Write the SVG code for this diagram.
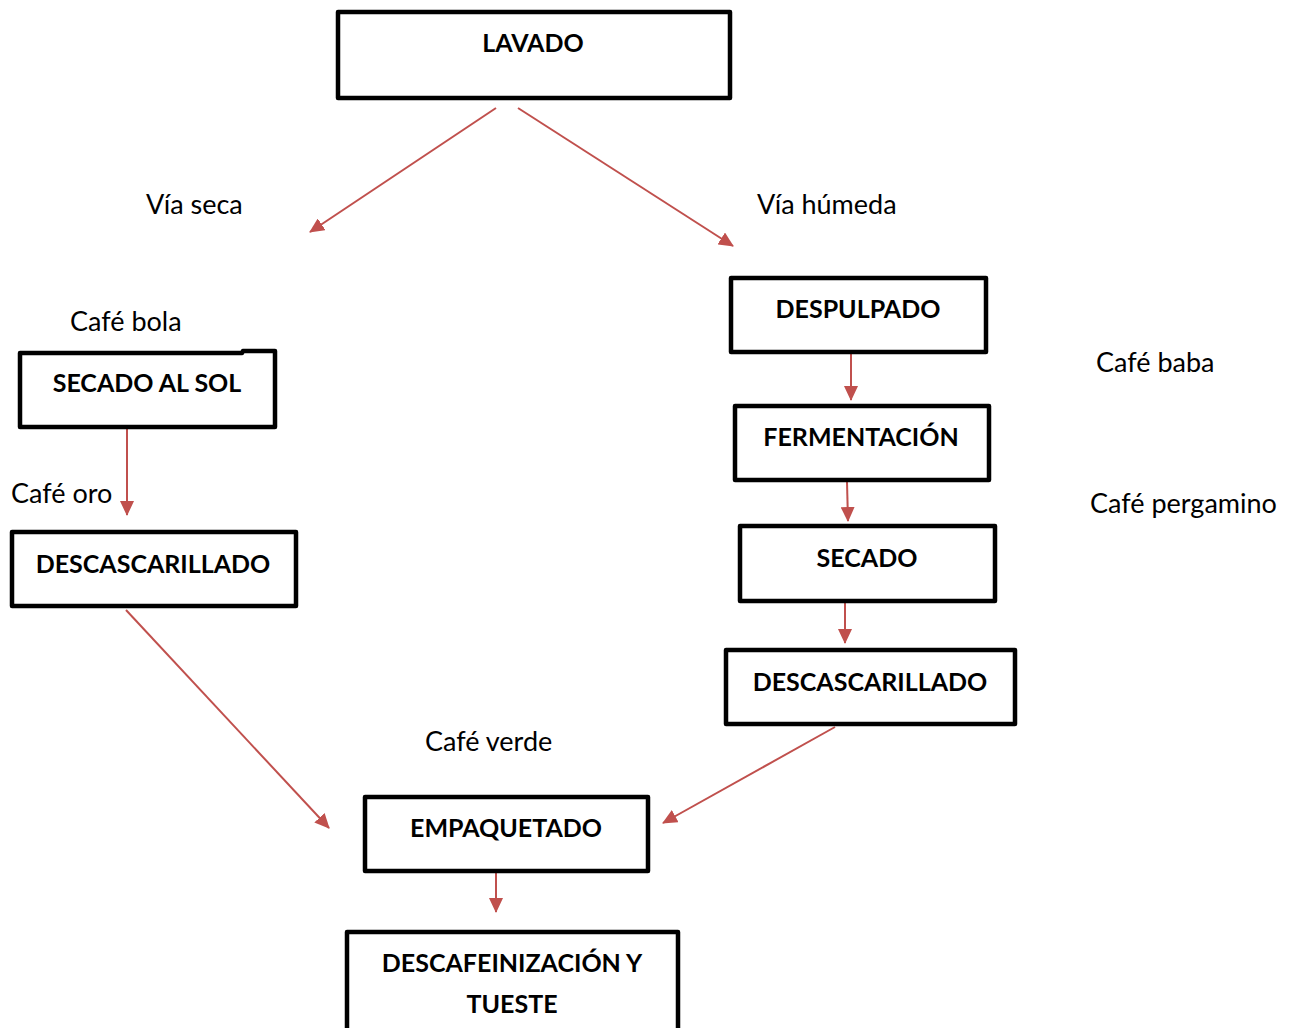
<svg xmlns="http://www.w3.org/2000/svg" width="1294" height="1028" viewBox="0 0 1294 1028">
<defs>
<style>
.box{fill:#fff;stroke:#000;stroke-width:4.5;stroke-linejoin:round}
.t{font-family:Lato,"Liberation Sans",sans-serif;font-weight:bold;font-size:25px;fill:#000;text-anchor:middle}
.l{font-family:Lato,"Liberation Sans",sans-serif;font-size:27px;fill:#000}
.c{stroke:#C0504D;stroke-width:2;fill:none;marker-end:url(#ah)}
</style>
<marker id="ah" markerUnits="userSpaceOnUse" markerWidth="16" markerHeight="14" refX="14" refY="7" orient="auto">
<path d="M0,0 L15,7 L0,14 Z" fill="#C0504D"/>
</marker>
</defs>
<rect width="1294" height="1028" fill="#fff"/>
<g id="connectors">
<line class="c" x1="496" y1="108" x2="310" y2="232"/>
<line class="c" x1="518" y1="108" x2="733" y2="246"/>
<line class="c" x1="127" y1="428" x2="127" y2="515"/>
<line class="c" x1="126" y1="610" x2="329" y2="828"/>
<line class="c" x1="835" y1="727" x2="663" y2="823"/>
<line class="c" x1="496" y1="873" x2="496" y2="912"/>
<line class="c" x1="851" y1="353" x2="851" y2="400"/>
<line class="c" x1="847" y1="482" x2="848" y2="521"/>
<line class="c" x1="845" y1="602" x2="845" y2="643"/>
</g>
<g id="lavado"><rect class="box" x="338" y="12" width="392" height="86"/><text class="t" x="533" y="52">LAVADO</text></g>
<g id="despulpado"><rect class="box" x="731" y="278" width="255" height="74"/><text class="t" x="858" y="318">DESPULPADO</text></g>
<g id="fermentacion"><rect class="box" x="735" y="406" width="254" height="74"/><text class="t" x="861" y="446">FERMENTACIÓN</text></g>
<g id="secado"><rect class="box" x="740" y="526" width="255" height="75"/><text class="t" x="867" y="567">SECADO</text></g>
<g id="descascarillado2"><rect class="box" x="726" y="650" width="289" height="74"/><text class="t" x="870" y="691">DESCASCARILLADO</text></g>
<g id="secado-sol"><path class="box" d="M20,353 L242,353 L243,351 L275,351 L275,427 L20,427 Z"/><text class="t" x="147" y="392">SECADO AL SOL</text></g>
<g id="descascarillado1"><rect class="box" x="12" y="532" width="284" height="74"/><text class="t" x="153" y="573">DESCASCARILLADO</text></g>
<g id="empaquetado"><rect class="box" x="365" y="797" width="283" height="74"/><text class="t" x="506" y="837">EMPAQUETADO</text></g>
<g id="descafeinizacion"><rect class="box" x="347" y="932" width="331" height="110"/><text class="t" x="512" y="972">DESCAFEINIZACIÓN Y</text><text class="t" x="512" y="1013">TUESTE</text></g>
<g id="labels">
<text class="l" x="146" y="214">Vía seca</text>
<text class="l" x="757" y="214">Vía húmeda</text>
<text class="l" x="70" y="331">Café bola</text>
<text class="l" x="1096" y="372">Café baba</text>
<text class="l" x="11" y="503">Café oro</text>
<text class="l" x="1090" y="513">Café pergamino</text>
<text class="l" x="425" y="751">Café verde</text>
</g>
</svg>
